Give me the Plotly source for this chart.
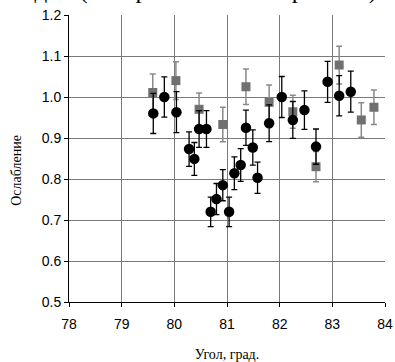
import plotly.graph_objects as go

# Black circles (main series)
x_circ = [79.60, 79.81, 80.04, 80.28, 80.38, 80.47, 80.61, 80.69, 80.80, 80.92, 81.04, 81.14,
          81.26, 81.36, 81.49, 81.58, 81.80, 82.04, 82.25, 82.47, 82.69, 82.91, 83.13, 83.35]
y_circ = [0.960, 1.000, 0.963, 0.873, 0.849, 0.922, 0.922, 0.720, 0.751, 0.785, 0.720, 0.814,
          0.834, 0.925, 0.877, 0.803, 0.936, 1.000, 0.944, 0.968, 0.879, 1.037, 1.003, 1.013]
e_circ = [0.049, 0.049, 0.050, 0.042, 0.040, 0.045, 0.045, 0.036, 0.038, 0.038, 0.036, 0.040,
          0.040, 0.043, 0.043, 0.038, 0.045, 0.050, 0.045, 0.047, 0.043, 0.050, 0.049, 0.050]

# Grey squares (control series)
x_sq = [79.59, 80.03, 80.47, 80.92, 81.36, 81.80, 82.25, 82.69, 83.13, 83.55, 83.79]
y_sq = [1.011, 1.040, 0.970, 0.933, 1.025, 0.987, 0.964, 0.830, 1.078, 0.944, 0.975]
e_sq = [0.045, 0.046, 0.040, 0.042, 0.043, 0.042, 0.040, 0.037, 0.046, 0.042, 0.042]

x_ticks = [78, 79, 80, 81, 82, 83, 84]
y_ticks = [0.5, 0.6, 0.7, 0.8, 0.9, 1.0, 1.1, 1.2]

serif = "Liberation Serif, Times New Roman, serif"

fig = go.Figure()
fig.add_trace(go.Scatter(
    x=x_sq, y=y_sq, mode="markers",
    marker=dict(symbol="square", size=9, color="#707070"),
    error_y=dict(type="data", array=e_sq, color="#8a8a8a", thickness=1.5, width=3),
    showlegend=False))
fig.add_trace(go.Scatter(
    x=x_circ, y=y_circ, mode="markers",
    marker=dict(symbol="circle", size=10.5, color="#000000"),
    error_y=dict(type="data", array=e_circ, color="#000000", thickness=1.3, width=3),
    showlegend=False))

fig.update_layout(
    width=395, height=362,
    margin=dict(l=69, r=10, t=15, b=60),
    paper_bgcolor="white", plot_bgcolor="white",
    font=dict(family="Liberation Sans, Arial, sans-serif", size=14, color="#000"),
    xaxis=dict(range=[78, 84], tickvals=x_ticks, ticktext=[str(v) for v in x_ticks],
               showgrid=True, gridcolor="#7a7a7a", gridwidth=1, automargin=False,
               showline=True, linecolor="#000", linewidth=1, mirror=False,
               ticks="outside", ticklen=4, tickcolor="#000", zeroline=False,
               ticklabelstandoff=5,
               title=dict(text="Угол, град.", font=dict(family=serif, size=14), standoff=26)),
    yaxis=dict(range=[0.5, 1.2], tickvals=y_ticks, tickformat=".1f", automargin=False,
               showgrid=True, gridcolor="#7a7a7a", gridwidth=1,
               showline=True, linecolor="#000", linewidth=1,
               ticks="outside", ticklen=4, tickcolor="#000", zeroline=False),
    annotations=[
        dict(text="водой (контрольный эксперимент).", xref="paper", yref="paper",
             x=1.0, y=1.0, xanchor="right", yanchor="bottom", yshift=9,
             showarrow=False, font=dict(family=serif, size=25, color="#000")),
        dict(text="Ослабление", xref="paper", yref="paper",
             x=-0.165, y=0.46, xanchor="center", yanchor="middle", textangle=-90,
             showarrow=False, font=dict(family=serif, size=14, color="#000")),
    ],
)

fig.write_html("out.html", config={"displayModeBar": False},
               post_script="document.body.style.margin='0';")
